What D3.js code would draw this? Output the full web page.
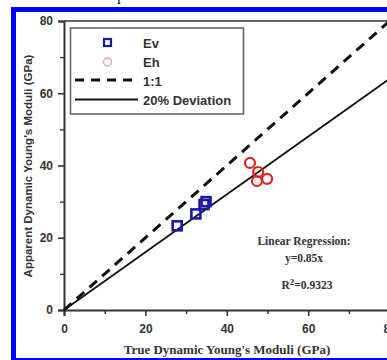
<!DOCTYPE html>
<html><head><meta charset="utf-8">
<script src="https://cdn.jsdelivr.net/npm/d3@7"></script>
<style>html,body{margin:0;padding:0;background:#fff;overflow:hidden}</style>
</head><body>
<svg id="c" width="387" height="360"></svg>
<script>
const evTrue = [27.8, 32.4, 34.4, 34.9];
const evApp  = [23.3, 26.6, 29.2, 30.0];
const ehTrue = [45.7, 47.7, 47.4, 49.9];
const ehApp  = [40.7, 38.2, 35.7, 36.3];
const majorTicks = [0, 20, 40, 60, 80];
const minorTicks = [10, 30, 50, 70];
const slope11 = 1.0;
const slopeDev = 0.8;
const regressionText = ["Linear Regression:", "y=0.85x"];
const r2Value = "0.9323";

const svg = d3.select("#c");
const x = d3.scaleLinear().domain([0, 80]).range([64, 389.6]);
const y = d3.scaleLinear().domain([0, 80]).range([310, 21]);
const sans = "'Liberation Sans', Arial, sans-serif";
const serif = "'Liberation Serif', 'Times New Roman', serif";

// clipped caption glyph at top
svg.append("text").attr("x", 117).attr("y", 0).attr("font-family", serif)
  .attr("font-size", 16).attr("fill", "#222").text("p");

// blue frame
svg.append("rect").attr("x", 13.5).attr("y", 9.5).attr("width", 420).attr("height", 351)
  .attr("fill", "none").attr("stroke", "#0000ff").attr("stroke-width", 5);

// top frame line
svg.append("line").attr("x1", x(0)).attr("x2", 400).attr("y1", y(80)).attr("y2", y(80))
  .attr("stroke", "#666").attr("stroke-width", 2);

// axes
const xAxis = d3.axisBottom(x).tickValues(majorTicks).tickSize(6).tickPadding(8).tickFormat(d3.format("d"));
const gx = svg.append("g").attr("transform", `translate(0,${y(0)})`).call(xAxis);
const yAxis = d3.axisLeft(y).tickValues(majorTicks).tickSize(6).tickPadding(5).tickFormat(d3.format("d"));
const gy = svg.append("g").attr("transform", `translate(${x(0)},0)`).call(yAxis);
[gx, gy].forEach(g => {
  g.select(".domain").attr("stroke", "#333").attr("stroke-width", 2);
  g.selectAll(".tick line").attr("stroke", "#333").attr("stroke-width", 1.6);
  g.selectAll(".tick text").attr("font-family", sans).attr("font-weight", "bold")
    .attr("font-size", 12).attr("fill", "#333");
});
svg.append("g").attr("transform", `translate(0,${y(0)})`).call(
  d3.axisBottom(x).tickValues(minorTicks).tickSize(4).tickFormat(""))
  .call(g => { g.select(".domain").remove(); g.selectAll("line").attr("stroke", "#333").attr("stroke-width", 1.4); });
svg.append("g").attr("transform", `translate(${x(0)},0)`).call(
  d3.axisLeft(y).tickValues(minorTicks).tickSize(4).tickFormat(""))
  .call(g => { g.select(".domain").remove(); g.selectAll("line").attr("stroke", "#333").attr("stroke-width", 1.4); });

// reference lines
const line = d3.line().x(d => x(d[0])).y(d => y(d[1]));
svg.append("path").attr("d", line([[0, 0], [80, 80 * slope11]]))
  .attr("stroke", "#111").attr("stroke-width", 3).attr("stroke-dasharray", "10,7").attr("fill", "none");
svg.append("path").attr("d", line([[0, 0], [80, 80 * slopeDev]]))
  .attr("stroke", "#111").attr("stroke-width", 1.8).attr("fill", "none");

// data
const s = 9;
svg.selectAll(".ev").data(evTrue).enter().append("rect")
  .attr("x", (d) => x(d) - s / 2).attr("y", (d, i) => y(evApp[i]) - s / 2)
  .attr("width", s).attr("height", s).attr("fill", "none")
  .attr("stroke", "#1a1aa6").attr("stroke-width", 2.6);
svg.selectAll(".eh").data(ehTrue).enter().append("circle")
  .attr("cx", d => x(d)).attr("cy", (d, i) => y(ehApp[i])).attr("r", 5)
  .attr("fill", "none").attr("stroke", "#e5231e").attr("stroke-width", 2.2);

// legend
const lg = svg.append("g");
lg.append("rect").attr("x", 70.5).attr("y", 28).attr("width", 173).attr("height", 86)
  .attr("fill", "none").attr("stroke", "#666").attr("stroke-width", 1.6);
lg.append("rect").attr("x", 104).attr("y", 39).attr("width", 7).attr("height", 7)
  .attr("fill", "none").attr("stroke", "#1a1aa6").attr("stroke-width", 2.2);
lg.append("circle").attr("cx", 107.5).attr("cy", 62).attr("r", 4)
  .attr("fill", "none").attr("stroke", "#d9aaa6").attr("stroke-width", 1.4);
lg.append("line").attr("x1", 75).attr("x2", 139).attr("y1", 80).attr("y2", 80)
  .attr("stroke", "#111").attr("stroke-width", 3).attr("stroke-dasharray", "9,7");
lg.append("line").attr("x1", 75).attr("x2", 138).attr("y1", 99.5).attr("y2", 99.5)
  .attr("stroke", "#111").attr("stroke-width", 1.8);
const labels = [["Ev", 48], ["Eh", 67], ["1:1", 86], ["20% Deviation", 105]];
lg.selectAll("text").data(labels).enter().append("text")
  .attr("x", 143).attr("y", d => d[1]).attr("font-family", sans).attr("font-weight", "bold")
  .attr("font-size", 13).attr("fill", "#333").text(d => d[0]);

// regression annotation
svg.append("text").attr("x", 304).attr("y", 245).attr("text-anchor", "middle")
  .attr("font-family", serif).attr("font-weight", "bold").attr("font-size", 11.5).attr("fill", "#333")
  .text(regressionText[0]);
svg.append("text").attr("x", 304).attr("y", 262).attr("text-anchor", "middle")
  .attr("font-family", serif).attr("font-weight", "bold").attr("font-size", 11.5).attr("fill", "#333")
  .text(regressionText[1]);
const r2 = svg.append("text").attr("x", 307).attr("y", 289).attr("text-anchor", "middle")
  .attr("font-family", serif).attr("font-weight", "bold").attr("font-size", 11.5).attr("fill", "#333");
r2.append("tspan").text("R");
r2.append("tspan").attr("dy", -4).attr("font-size", 9).text("2");
r2.append("tspan").attr("dy", 4).text("=" + r2Value);

// axis titles
svg.append("text").attr("x", 227).attr("y", 354).attr("text-anchor", "middle")
  .attr("font-family", serif).attr("font-weight", "bold").attr("font-size", 13).attr("fill", "#333")
  .text("True Dynamic Young's Moduli (GPa)");
svg.append("text").attr("transform", "translate(32,166) rotate(-90)").attr("text-anchor", "middle")
  .attr("font-family", sans).attr("font-weight", "bold").attr("font-size", 11.5).attr("fill", "#333")
  .text("Apparent Dynamic Young's Moduli (GPa)");
</script>
</body></html>
